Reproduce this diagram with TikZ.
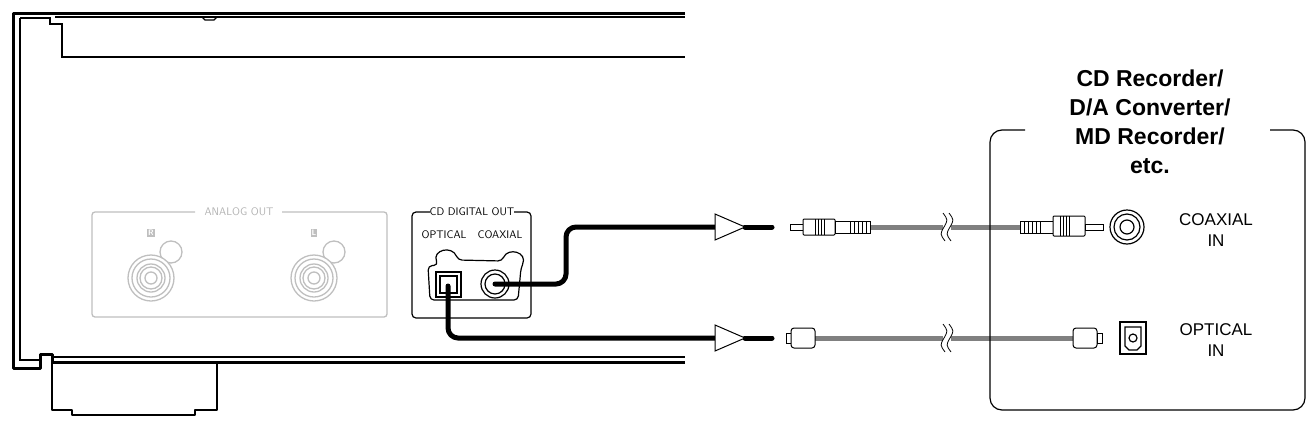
\documentclass[tikz,border=0pt]{standalone}
\usepackage{fontspec}
\setmainfont{Liberation Sans}
\begin{document}
\begin{tikzpicture}[x=1pt,y=-1pt,
  chassis/.style={line width=3pt,line join=round},
  thin/.style={line width=1.2pt},
  ana/.style={draw=black!25,line width=1.3pt},
  cable/.style={line width=5pt,line cap=round,rounded corners=10pt},
  gcable/.style={draw=black!50,line width=5pt},
  tri/.style={draw,fill=white,line width=1pt},
  plug/.style={draw,fill=white,line width=1pt},
  lab/.style={align=center},
  small/.style={font=\sffamily\fontsize{11}{11}\selectfont}]
\useasboundingbox (0,0) rectangle (1312,426);
% chassis
\draw[chassis] (685,13) -- (13,13) -- (13,368) -- (40,368) -- (40,354) -- (52,354) -- (52,362) -- (685,362);
\draw[thin] (685,17) -- (55,17);
\draw[thin] (20,18) -- (50,18) -- (50,24) -- (62,24) -- (62,57) -- (685,57);
\draw[thin] (20,18) -- (20,360) -- (40,360);
\draw[thin] (52,357) -- (685,357);
\draw[thin] (202,17) -- (205,20) -- (214,20) -- (217,17);
\draw[chassis,line width=2.5pt] (52,362) -- (52,410) -- (72,410) -- (72,415) -- (195,415) -- (195,410) -- (217,410) -- (217,362);
% analog out
\draw[ana,rounded corners=3pt] (195,212) -- (92,212) -- (92,317) -- (387,317) -- (387,212) -- (282,212);
\node[small,text=black!30] (ana) at (239,212) {ANALOG OUT};
\node[small,text=white,fill=black!25,inner sep=1pt,font=\sffamily\bfseries\fontsize{8}{8}\selectfont] (r) at (151,233) {R};
\node[small,text=white,fill=black!25,inner sep=1pt,font=\sffamily\bfseries\fontsize{8}{8}\selectfont] (l) at (314,233) {L};
\foreach \cx in {151,314}{
  \draw[ana] (\cx+20,252) circle (11);
  \fill[white] (\cx,278) circle (23);
  \draw[ana] (\cx,278) circle (23) (\cx,278) circle (19) (\cx,278) circle (14) (\cx,278) circle (11) (\cx,278) circle (6);
}
% digital out
\draw[thin,rounded corners=4pt] (430,212) -- (412,212) -- (412,318) -- (531,318) -- (531,212) -- (514,212);
\node[small] (cdo) at (472,212) {CD DIGITAL OUT};
\node[small] (opt) at (444,235) {OPTICAL};
\node[small] (coax) at (500,235) {COAXIAL};
\draw[thin,rounded corners=4pt] (438,265) .. controls (432,250) and (452,245) .. (458,260) -- (502,261) .. controls (508,247) and (528,252) .. (521,268) -- (518,300) -- (430,300) -- (428,266) -- cycle;
\draw[thin,fill=white] (436,272) rectangle (461,297);
\draw[thin] (440,276) rectangle (457,293);
\draw[thin,fill=white] (495,284) circle (14);
\draw[thin] (495,284) circle (10);
% cables
\coordinate (cj) at (495,284);
\coordinate (oj) at (448,286);
\draw[cable] (cj) -- (566,284) -- (566,227) -- (715,227);
\draw[cable] (oj) -- (448,338) -- (715,338);
\draw[line width=5pt,line cap=round] (745,227) -- (772,227);
\draw[line width=5pt,line cap=round] (745,338) -- (772,338);
\draw[tri] (715,214) -- (745,227) -- (715,240) -- cycle;
\draw[tri] (715,325) -- (745,338) -- (715,351) -- cycle;
% gray cables
\draw[gcable] (870,227) -- (1020,227);
\draw[gcable] (815,338) -- (1075,338);
\foreach \y in {227,338}{
  \fill[white] (943,\y-15) rectangle (951,\y+15);
  \draw[line width=0.8pt] (943,\y-14) .. controls (948,\y-7) .. (944,\y) .. controls (940,\y+7) .. (945,\y+14);
  \draw[line width=0.8pt] (949,\y-14) .. controls (954,\y-7) .. (950,\y) .. controls (946,\y+7) .. (951,\y+14);
}
% left RCA plug
\draw[plug] (790,224) rectangle (803,230);
\draw[plug,rounded corners=1pt] (803,219) rectangle (835,235);
\foreach \x in {815,818,821,824} \draw (\x,219) -- (\x,235);
\draw[plug] (835,221) rectangle (850,233);
\draw[plug] (850,221) rectangle (870,233);
\foreach \x in {854,858,862,866} \draw (\x,221) -- (\x,233);
% right RCA plug
\draw[plug] (1020,221) rectangle (1040,233);
\foreach \x in {1024,1028,1032,1036} \draw (\x,221) -- (\x,233);
\draw[plug] (1040,221) rectangle (1053,233);
\draw[plug,rounded corners=1pt] (1053,216) rectangle (1085,236);
\foreach \x in {1060,1063,1066,1069} \draw (\x,216) -- (\x,236);
\draw[plug] (1085,224) rectangle (1103,230);
% optical plugs
\draw[plug] (786,333) rectangle (791,343);
\draw[plug,rounded corners=3pt] (791,328) rectangle (815,348);
\draw[plug,rounded corners=3pt] (1073,328) rectangle (1097,348);
\draw[plug] (1097,333) rectangle (1102,343);
% recorder box
\draw[thin,rounded corners=12pt] (1025,130) -- (990,130) -- (990,410) -- (1305,410) -- (1305,130) -- (1270,130);
\node[lab,font=\bfseries\fontsize{23}{29}\selectfont] (title) at (1150,122) {CD Recorder/\\D/A Converter/\\MD Recorder/\\etc.};
\draw[thin] (1127,227) circle (17) (1127,227) circle (13) (1127,227) circle (7);
\draw[thin] (1120,322) rectangle (1146,354);
\draw[thin] (1125,327) -- (1141,327) -- (1141,346) -- (1137,350) -- (1129,350) -- (1125,346) -- cycle;
\draw[thin] (1133,338) circle (4);
\node[lab,font=\fontsize{17}{21}\selectfont] (cin) at (1216,230) {COAXIAL\\IN};
\node[lab,font=\fontsize{17}{21}\selectfont] (oin) at (1216,340) {OPTICAL\\IN};
\end{tikzpicture}
\end{document}
